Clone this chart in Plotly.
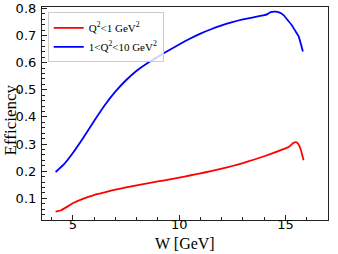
import plotly.graph_objects as go

# W [GeV] and efficiency values
w_low = [4.19, 4.45, 4.8, 5.0, 5.5, 6.0, 6.5, 7.0, 7.5, 8.0, 8.5, 9.0, 9.5, 10.0, 10.5,
         11.0, 11.5, 12.0, 12.5, 13.0, 13.5, 14.0, 14.5, 15.0, 15.2, 15.35, 15.5, 15.6, 15.72, 15.85]
eff_low = [0.051, 0.056, 0.072, 0.082, 0.099, 0.112, 0.122, 0.132, 0.140, 0.148, 0.155, 0.162,
           0.169, 0.176, 0.184, 0.192, 0.200, 0.209, 0.219, 0.230, 0.242, 0.255, 0.269, 0.284,
           0.292, 0.303, 0.307, 0.300, 0.280, 0.240]

w_high = [4.19, 4.6, 5.0, 5.5, 6.0, 6.5, 7.0, 7.5, 8.0, 8.5, 9.0, 9.5, 10.0, 10.5, 11.0,
          11.5, 12.0, 12.5, 13.0, 13.5, 14.0, 14.13, 14.3, 14.52, 14.7, 14.91, 15.1, 15.3, 15.5, 15.62, 15.82]
eff_high = [0.197, 0.227, 0.267, 0.324, 0.385, 0.443, 0.493, 0.535, 0.570, 0.598, 0.622, 0.645,
            0.667, 0.688, 0.707, 0.723, 0.737, 0.749, 0.759, 0.767, 0.775, 0.778, 0.786, 0.788,
            0.785, 0.775, 0.757, 0.738, 0.712, 0.697, 0.641]

names = ["Q<sup>2</sup>&lt;1 GeV<sup>2</sup>", "1&lt;Q<sup>2</sup>&lt;10 GeV<sup>2</sup>"]
colors = ["#ff0000", "#0000ff"]
x_title = "W [GeV]"
y_title = "Efficiency"

fig = go.Figure()
fig.add_trace(go.Scatter(x=w_low, y=eff_low, mode="lines", name=names[0],
                         line=dict(color=colors[0], width=1.8, shape="spline", smoothing=0.4)))
fig.add_trace(go.Scatter(x=w_high, y=eff_high, mode="lines", name=names[1],
                         line=dict(color=colors[1], width=1.8, shape="spline", smoothing=0.4)))

axis_common = dict(showline=True, linecolor="#222", linewidth=1.2, mirror=True,
                   ticks="inside", ticklen=5, tickcolor="#222", showgrid=False, zeroline=False,
                   automargin=False,
                   tickfont=dict(family="DejaVu Sans", size=13, color="black"))

fig.update_xaxes(range=[3.55, 17.0], tickvals=[5, 10, 15],
                 minor=dict(dtick=1, tick0=0, ticks="inside", ticklen=3, tickcolor="#222"),
                 ticklabelstandoff=-8,
                 **axis_common)
fig.update_yaxes(range=[0.02, 0.805], tickvals=[0.1, 0.2, 0.3, 0.4, 0.5, 0.6, 0.7, 0.8],
                 minor=dict(dtick=0.02, tick0=0, ticks="inside", ticklen=3, tickcolor="#222"),
                 ticklabelstandoff=2,
                 **axis_common)

fig.add_annotation(text=x_title, xref="paper", yref="paper", x=0.5, y=-0.11,
                   xanchor="center", yanchor="middle", showarrow=False,
                   font=dict(family="Liberation Serif", size=16, color="black"))
fig.add_annotation(text=y_title, xref="paper", yref="paper", x=-0.11, y=0.47,
                   xanchor="center", yanchor="middle", showarrow=False, textangle=-90,
                   font=dict(family="Liberation Serif", size=17, color="black"))

fig.update_layout(
    width=338, height=254,
    margin=dict(l=42, r=10, t=7, b=34),
    paper_bgcolor="white", plot_bgcolor="white",
    legend=dict(x=0.02, y=0.975, xanchor="left", yanchor="top",
                bgcolor="rgba(255,255,255,0.8)", bordercolor="#cccccc", borderwidth=1,
                font=dict(family="Liberation Serif", size=11, color="black"),
                tracegroupgap=0, itemwidth=30),
    showlegend=True,
)

fig.write_html("out.html", config={"displayModeBar": False},
               post_script="document.body.style.margin='0';")
